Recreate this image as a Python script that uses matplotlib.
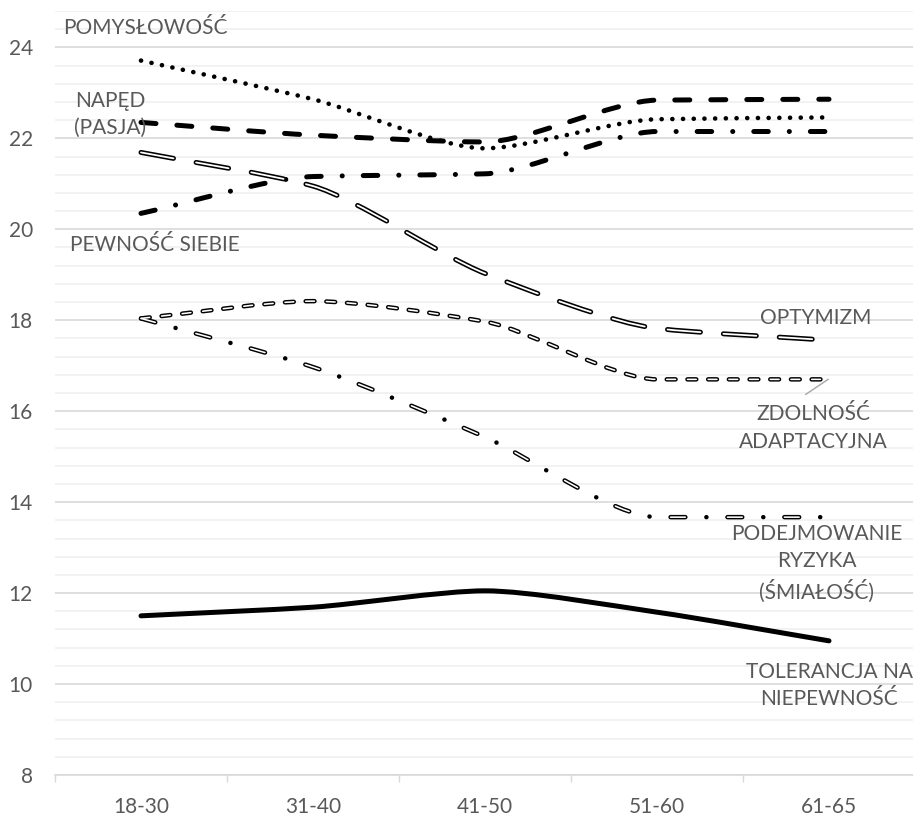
import numpy as np
import matplotlib.pyplot as plt
from matplotlib.path import Path
from matplotlib.patches import PathPatch
from matplotlib.ticker import MultipleLocator, FixedLocator

plt.rcParams['font.family'] = ['Lato', 'DejaVu Sans']
plt.rcParams['lines.scale_dashes'] = False

groups = ['18-30', '31-40', '41-50', '51-60', '61-65']

pomyslowosc = [23.71, 22.86, 21.78, 22.42, 22.46]
naped = [22.35, 22.07, 21.92, 22.84, 22.86]
pewnosc = [20.35, 21.16, 21.22, 22.15, 22.15]
optymizm = [21.69, 20.95, 19.03, 17.82, 17.56]
zdolnosc = [18.04, 18.42, 17.97, 16.70, 16.70]
ryzyko = [18.04, 16.97, 15.43, 13.67, 13.67]
tolerancja = [11.50, 11.69, 12.05, 11.58, 10.95]

TXT = '#595959'
PX = 0.72  # points per pixel at dpi 100
DOT = 0.1  # near-zero dash so round caps give a dot
HANDLE = 0.25  # bezier handle length, in category widths


def tangents(ys):
    # monotone slopes: harmonic mean, flat at turning points and plateaus
    d = np.diff(ys)
    m = np.zeros(len(ys))
    m[0] = d[0]
    m[-1] = d[-1]
    for k in range(1, len(ys) - 1):
        if d[k - 1] * d[k] > 0:
            m[k] = 2 / (1 / d[k - 1] + 1 / d[k])
    return m


def smooth_path(ys):
    ys = np.asarray(ys, dtype=float)
    xs = np.arange(len(ys), dtype=float)
    m = tangents(ys)
    verts = [(xs[0], ys[0])]
    codes = [Path.MOVETO]
    for i in range(len(ys) - 1):
        verts += [(xs[i] + HANDLE, ys[i] + m[i] * HANDLE),
                  (xs[i + 1] - HANDLE, ys[i + 1] - m[i + 1] * HANDLE),
                  (xs[i + 1], ys[i + 1])]
        codes += [Path.CURVE4] * 3
    return Path(verts, codes)


def draw(ax, ys, lw, dashes=None, color='black', z=3):
    ls = 'solid' if dashes is None else (0, [d * PX for d in dashes])
    p = PathPatch(smooth_path(ys), fill=False, edgecolor=color, linewidth=lw * PX,
                  linestyle=ls, capstyle='round', joinstyle='round', zorder=z)
    ax.add_patch(p)


def draw_double(ax, ys, lw, inner, outer_dashes, inner_dashes):
    draw(ax, ys, lw, outer_dashes, 'black', 3)
    draw(ax, ys, inner, inner_dashes, 'white', 4)


fig = plt.figure(figsize=(9.13, 8.16), dpi=100)
ax = fig.add_axes([55 / 913, 41 / 816, 860 / 913, 764 / 816])

ax.set_xlim(-0.5, 4.5)
ax.set_ylim(8, 24.8)

# gridlines: major every 2, minor every 0.4
ax.yaxis.set_major_locator(MultipleLocator(2))
ax.yaxis.set_minor_locator(MultipleLocator(0.4))
ax.grid(which='major', axis='y', color='#d9d9d9', linewidth=1.2, zorder=0)
ax.grid(which='minor', axis='y', color='#f0f0f0', linewidth=1.2, zorder=0)
ax.set_axisbelow(True)

ax.xaxis.set_major_locator(FixedLocator(range(len(groups))))
ax.set_xticklabels(groups)
ax.xaxis.set_minor_locator(FixedLocator(np.arange(-0.5, 4.6, 1)))
ax.tick_params(axis='x', which='major', length=0, pad=16, labelsize=15, labelcolor=TXT)
ax.tick_params(axis='x', which='minor', length=5, width=1, color='#d9d9d9')
ax.tick_params(axis='y', which='both', length=0, pad=16, labelsize=15, labelcolor=TXT)

for s in ['top', 'right', 'left']:
    ax.spines[s].set_visible(False)
ax.spines['bottom'].set_color('#d9d9d9')
ax.spines['bottom'].set_linewidth(1.2)

# series
draw(ax, pomyslowosc, 4.6, [DOT, 10.6])
draw(ax, naped, 5, [15, 21])
draw(ax, pewnosc, 5, [14.5, 21, DOT, 21])
draw_double(ax, optymizm, 5, 1.8, [33, 23], [33, 23])
draw_double(ax, zdolnosc, 4.5, 1.6, [8.8, 11.9], [8.8, 11.9])
draw_double(ax, ryzyko, 4.5, 1.6, [14.8, 21, DOT, 21], [14.8, 42 + DOT])
draw(ax, tolerancja, 5)

# labels
kw = dict(fontsize=15, color=TXT, linespacing=1.45)
ax.text(-0.455, 24.42, 'POMYSŁOWOŚĆ', ha='left', va='center', **kw)
ax.text(-0.18, 22.53, 'NAPĘD\n(PASJA)', ha='center', va='center', **kw)
ax.text(-0.41, 19.65, 'PEWNOŚĆ SIEBIE', ha='left', va='center', **kw)
ax.text(3.92, 18.04, 'OPTYMIZM', ha='center', va='center', **kw)
ax.text(3.91, 15.63, 'ZDOLNOŚĆ\nADAPTACYJNA', ha='center', va='center', **kw)
ax.text(3.93, 12.66, 'PODEJMOWANIE\nRYZYKA\n(ŚMIAŁOŚĆ)', ha='center', va='center', **kw)
ax.text(4.0, 9.96, 'TOLERANCJA NA\nNIEPEWNOŚĆ', ha='center', va='center', **kw)
ax.plot([3.865, 3.995], [16.37, 16.70], color='#a6a6a6', linewidth=1, zorder=2)

fig.savefig('out.png', dpi=100)
